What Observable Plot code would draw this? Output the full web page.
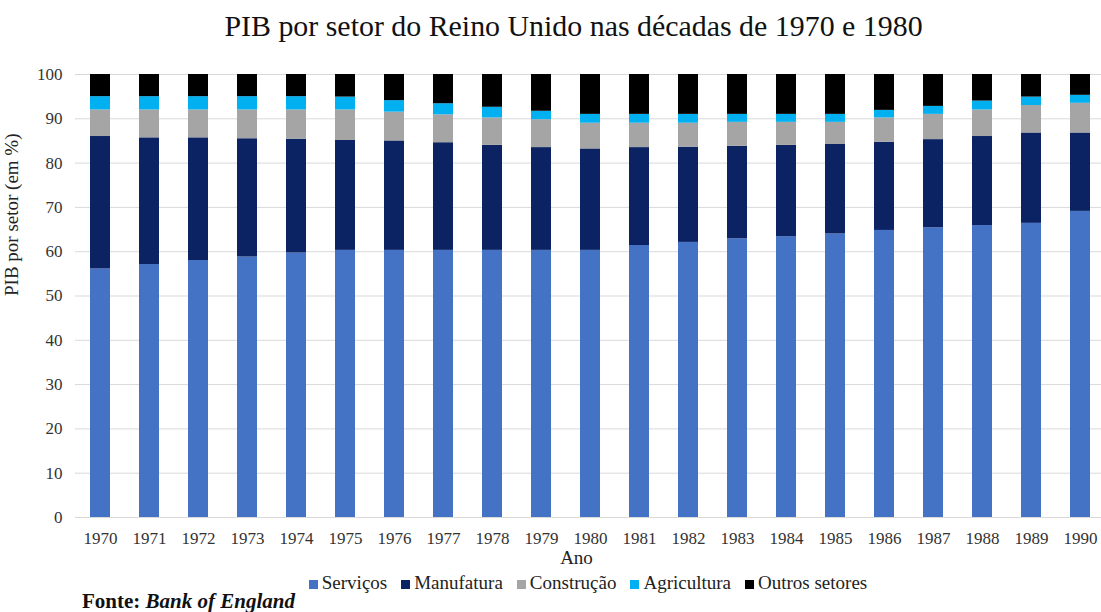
<!DOCTYPE html>
<html>
<head>
<meta charset="utf-8">
<script src="https://cdn.jsdelivr.net/npm/d3@7"></script>
<script src="https://cdn.jsdelivr.net/npm/@observablehq/plot@0.6"></script>
<style>
  html, body { margin: 0; padding: 0; background: #fff; }
  body { width: 1101px; height: 612px; position: relative; overflow: hidden;
         font-family: "Liberation Serif", "Times New Roman", serif; color: #111; }
  #title { position: absolute; left: 46px; width: 1055px; top: 11px; text-align: center;
           font-size: 29.9px; line-height: 30px; white-space: nowrap; }
  #chart { position: absolute; left: 0; top: 45px; }
  #legend { position: absolute; left: 75px; width: 1026px; top: 573px; display: flex;
            justify-content: center; font-size: 19px; line-height: 19px; color: #222;
            font-family: "Liberation Serif", "Times New Roman", serif; }
  #legend .item { display: flex; align-items: center; margin: 0 7px; white-space: nowrap; }
  #legend .sw { width: 9px; height: 9px; margin-right: 4px; margin-top: 3px; }
  #caption { position: absolute; left: 82px; top: 591px; font-size: 21px; line-height: 21px;
             font-weight: bold; white-space: nowrap; }
  #chart svg text { font-family: "Liberation Serif", "Times New Roman", serif; }
</style>
</head>
<body>
<div id="title">PIB por setor do Reino Unido nas décadas de 1970 e 1980</div>
<div id="chart"></div>
<div id="legend"></div>
<div id="caption">Fonte: <i>Bank of England</i></div>
<script>
const years = ["1970","1971","1972","1973","1974","1975","1976","1977","1978","1979","1980",
               "1981","1982","1983","1984","1985","1986","1987","1988","1989","1990"];
const sectors = ["Serviços", "Manufatura", "Construção", "Agricultura", "Outros setores"];
const colors = ["#4472C4", "#0B2263", "#A5A5A5", "#00B0F0", "#000000"];
const servicos    = [56.1,57.1,58.0,58.8,59.7,60.3,60.3,60.3,60.3,60.3,60.3,61.4,62.1,62.9,63.4,64.0,64.8,65.4,65.9,66.4,69.1];
const manufatura  = [29.9,28.6,27.7,26.7,25.7,24.8,24.7,24.3,23.7,23.2,22.9,22.1,21.5,20.9,20.6,20.2,19.9,19.9,20.1,20.4,17.7];
const construcao  = [6.0,6.3,6.3,6.5,6.6,6.9,6.5,6.3,6.2,6.3,5.8,5.5,5.4,5.4,5.2,5.0,5.5,5.7,6.0,6.2,6.7];
const agricultura = [3.0,3.0,3.0,3.0,3.0,2.9,2.6,2.5,2.4,1.9,2.0,2.0,2.0,1.8,1.8,1.8,1.7,1.8,2.0,1.9,1.8];
const outros      = [5.0,5.0,5.0,5.0,5.0,5.1,5.9,6.6,7.4,8.3,9.0,9.0,9.0,9.0,9.0,9.0,8.1,7.2,6.0,5.1,4.7];
const yTicks = [0,10,20,30,40,50,60,70,80,90,100];

const seriesValues = [servicos, manufatura, construcao, agricultura, outros];
const data = [];
years.forEach((yr, i) => {
  sectors.forEach((s, j) => data.push({ano: yr, setor: s, valor: seriesValues[j][i]}));
});

const chart = Plot.plot({
  width: 1101,
  height: 525,
  marginLeft: 75,
  marginRight: 0,
  marginTop: 29,
  marginBottom: 53,
  style: {fontFamily: "'Liberation Serif', 'Times New Roman', serif", fontSize: "17px", background: "#fff", overflow: "visible"},
  x: {type: "band", domain: years, range: [75, 1106], paddingInner: 0.59, paddingOuter: 0.295, label: null},
  y: {domain: [0, 100], label: null},
  color: {domain: sectors, range: colors},
  marks: [
    Plot.gridY(yTicks, {stroke: "#d9d9d9", strokeOpacity: 1, strokeWidth: 1}),
    Plot.barY(data, Plot.stackY({x: "ano", y: "valor", fill: "setor", order: sectors})),
    Plot.axisY(yTicks, {tickSize: 0, tickPadding: 13, fill: "#333", fontSize: 17, label: null}),
    Plot.axisX({tickSize: 0, tickPadding: 14, fill: "#333", fontSize: 17, label: null}),
    Plot.text(["Ano"], {frameAnchor: "bottom", text: d => d, dx: -12, dy: 40, lineAnchor: "middle", fontSize: 19, fill: "#222"}),
    Plot.text(["PIB por setor (em %)"], {frameAnchor: "left", text: d => d, rotate: -90, dx: -64, lineAnchor: "middle", fontSize: 19, fill: "#222"})
  ]
});
document.getElementById("chart").appendChild(chart);

const legend = document.getElementById("legend");
sectors.forEach((s, i) => {
  const item = document.createElement("div");
  item.className = "item";
  const sw = document.createElement("span");
  sw.className = "sw";
  sw.style.background = colors[i];
  item.appendChild(sw);
  item.appendChild(document.createTextNode(s));
  legend.appendChild(item);
});
</script>
</body>
</html>
